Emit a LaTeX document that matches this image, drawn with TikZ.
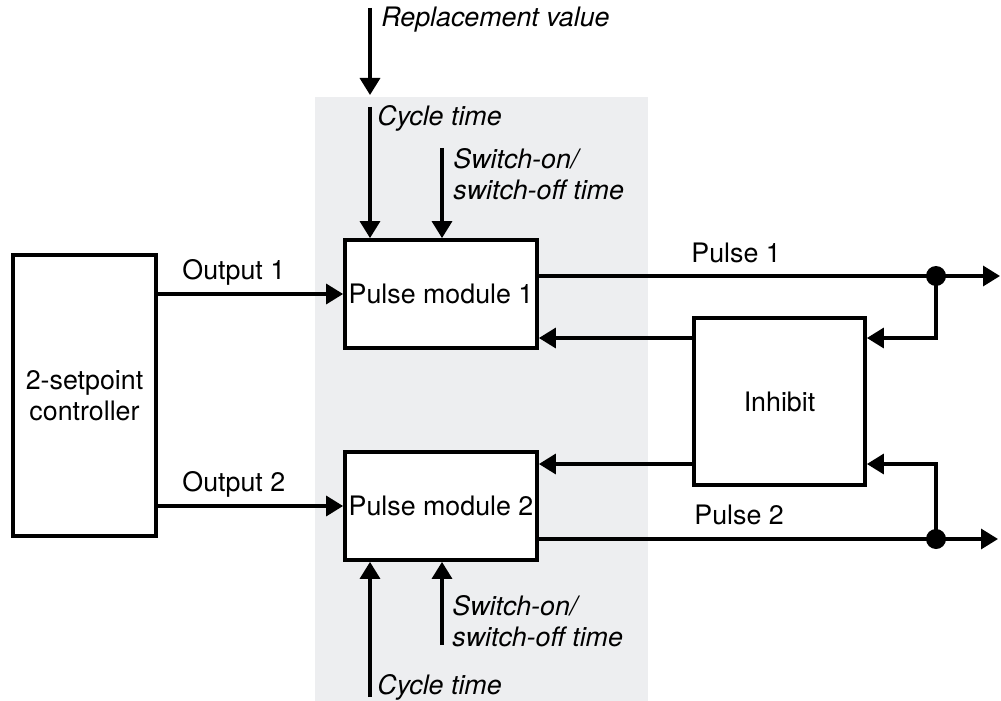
\documentclass[tikz,border=0pt]{standalone}
\usepackage{fontspec}
\setmainfont{TeX Gyre Heros}
\usetikzlibrary{arrows.meta}
\definecolor{panelgrey}{RGB}{237,238,240}
\begin{document}
\begin{tikzpicture}[x=0.5pt,y=-0.5pt,
  font=\fontsize{13.4}{15.5}\selectfont,
  box/.style={draw,line width=1.9pt,fill=white,inner sep=0pt,align=center},
  conn/.style={line width=1.7pt},
  arr/.style={conn,-{Triangle[length=8.5pt,width=10pt]}},
  lbl/.style={inner sep=0pt,anchor=west},
  ilbl/.style={lbl,font=\fontsize{13.4}{15.5}\selectfont\itshape,align=left},
  dot/.style={circle,fill=black,inner sep=0pt,minimum size=10pt}]
\useasboundingbox (0,0) rectangle (1001,701);
\fill[panelgrey] (315,97) rectangle (648,701);

% blocks
\node[box,minimum width=71.5pt,minimum height=140.5pt] (ctrl) at (84.5,395.5) {2-setpoint\\controller};
\node[box,minimum width=96pt,minimum height=54pt] (pm1) at (441,294) {Pulse module 1};
\node[box,minimum width=96pt,minimum height=54pt] (pm2) at (441,506) {Pulse module 2};
\node[box,minimum width=85.5pt,minimum height=83.5pt] (inh) at (779.5,401.5) {Inhibit};

% helper coordinates
\coordinate (p1) at (0,276);
\coordinate (p2) at (0,539);
\coordinate (i1) at (0,338);
\coordinate (i2) at (0,464);
\node[dot] (d1) at (936,276) {};
\node[dot] (d2) at (936,539) {};
\coordinate (o1) at (1000,276);
\coordinate (o2) at (998,539);
\coordinate (rvs) at (370,8);
\coordinate (rve) at (370,95);
\coordinate (cts) at (370,107);
\coordinate (sws) at (442,148);
\coordinate (cbs) at (370,697);
\coordinate (sbs) at (442,645);

% connectors
\draw[arr] (ctrl.east |- pm1.west) -- (pm1.west);
\draw[arr] (ctrl.east |- pm2.west) -- (pm2.west);
\draw[arr] (pm1.east |- p1) -- (d1.center) -- (o1);
\draw[arr] (pm2.east |- p2) -- (d2.center) -- (o2);
\draw[arr] (d1.center) |- (inh.east |- i1);
\draw[arr] (d2.center) |- (inh.east |- i2);
\draw[arr] (inh.west |- i1) -- (pm1.east |- i1);
\draw[arr] (inh.west |- i2) -- (pm2.east |- i2);
\draw[arr] (rvs) -- (rve);
\draw[arr] (cts) -- (cts |- pm1.north);
\draw[arr] (sws) -- (sws |- pm1.north);
\draw[arr] (cbs) -- (cbs |- pm2.south);
\draw[arr] (sbs) -- (sbs |- pm2.south);

% labels
\node[lbl] (lo1) at (182,272) {Output 1};
\node[lbl] (lo2) at (182,484) {Output 2};
\node[lbl] (lp1) at (691,253) {Pulse 1};
\node[lbl] (lp2) at (694,515) {Pulse 2};
\node[ilbl] (lrv) at (381,20) {Replacement value};
\node[ilbl] (lct1) at (377,118) {Cycle time};
\node[ilbl] (lsw1) at (453,174) {Switch-on/\\switch-off time};
\node[ilbl] (lsw2) at (452,621) {Switch-on/\\switch-off time};
\node[ilbl] (lct2) at (377,687) {Cycle time};
\end{tikzpicture}
\end{document}
